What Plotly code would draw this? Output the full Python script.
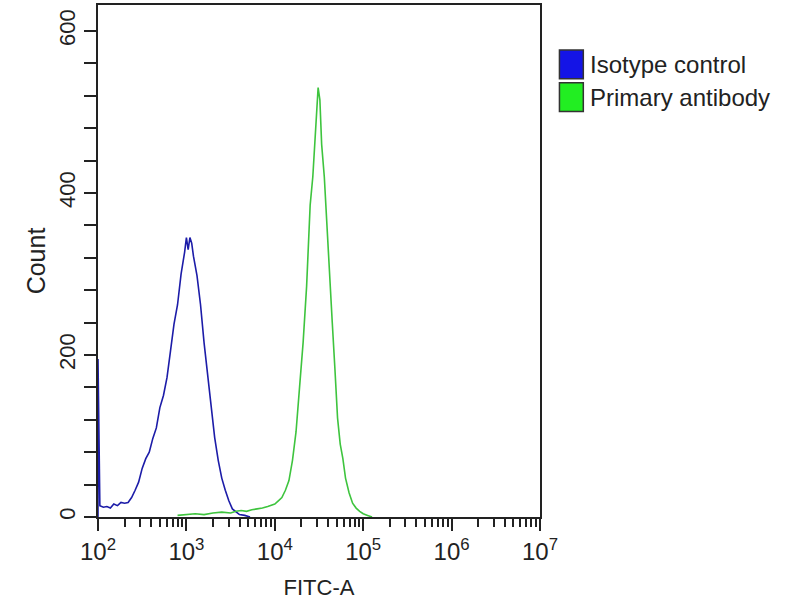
import plotly.graph_objects as go

# histogram values (FITC-A intensity, count)
isotype_x = [100, 100, 105, 115, 126, 138, 151, 166, 182, 200, 219, 240, 263, 288,
             316, 347, 380, 417, 457, 501, 550, 603, 661, 724, 794, 871, 955, 1000,
             1047, 1096, 1148, 1202, 1318, 1445, 1585, 1738, 1905, 2089, 2291, 2512,
             2754, 3020, 3311, 3631, 3981, 4571, 5248]
isotype_y = [0, 195, 14, 12, 13, 11, 16, 14, 18, 17, 18, 24, 33, 43,
             60, 72, 80, 97, 110, 135, 150, 172, 205, 238, 262, 300, 327, 345,
             330, 345, 338, 322, 298, 262, 215, 175, 140, 98, 70, 48,
             33, 20, 10, 6, 3, 2, 0]

primary_x = [794, 1000, 1259, 1585, 1995, 2512, 3162, 3631, 4169, 4786, 5495, 6310,
             7244, 8318, 9120, 10000, 10965, 12023, 13183, 14454, 15849, 17378,
             19055, 20893, 22909, 25119, 26915, 28840, 30903, 32359, 33884, 36308,
             38905, 41687, 44668, 47863, 51286, 54954, 58884, 63096, 69183, 75858,
             83176, 91201, 100000, 112202, 125893]
primary_y = [2, 3, 4, 3, 5, 6, 5, 7, 8, 7, 9, 10,
             11, 13, 15, 16, 20, 24, 33, 45, 70, 105,
             160, 215, 285, 385, 420, 470, 530, 515, 460, 420,
             355, 300, 240, 183, 122, 90, 72, 48, 30, 17,
             11, 7, 4, 2, 0]

series_names = ['Isotype control', 'Primary antibody']
line_colors = ['#1c1ca8', '#3ec43e']
legend_colors = ['#1414e6', '#22ee22']

x_major = [100, 1000, 10000, 100000, 1000000, 10000000]
x_labels = ['10<sup>2</sup>', '10<sup>3</sup>', '10<sup>4</sup>',
            '10<sup>5</sup>', '10<sup>6</sup>', '10<sup>7</sup>']
x_minor = [m * 10 ** d for d in range(2, 7) for m in range(2, 10)]

y_major = [0, 200, 400, 600]

fig = go.Figure()

fig.add_trace(go.Scatter(x=isotype_x, y=isotype_y, mode='lines', name=series_names[0],
                         line=dict(color=line_colors[0], width=1.6),
                         showlegend=False))
fig.add_trace(go.Scatter(x=primary_x, y=primary_y, mode='lines', name=series_names[1],
                         line=dict(color=line_colors[1], width=1.6),
                         showlegend=False))

# legend drawn by hand: big square swatches + labels to the right of the plot
for i, (name, col) in enumerate(zip(series_names, legend_colors)):
    top = 0.912 - i * 0.064
    fig.add_shape(type='rect', xref='paper', yref='paper',
                  x0=1.044, x1=1.098, y0=top - 0.056, y1=top,
                  fillcolor=col, line=dict(color='#333333', width=1.5))
    fig.add_annotation(x=1.108, y=top - 0.028, xref='paper', yref='paper',
                       text=name, showarrow=False, xanchor='left', yanchor='middle',
                       font=dict(size=24, color='#222222'))

fig.update_layout(
    width=800, height=600,
    margin=dict(l=98, r=260, t=3, b=83),
    paper_bgcolor='white',
    plot_bgcolor='white',
    font=dict(family='Liberation Sans Narrow, Liberation Sans, Arial, sans-serif',
              size=20, color='#222222'),
    showlegend=False,
)

fig.update_xaxes(
    type='log', range=[2, 7],
    tickmode='array', tickvals=x_major, ticktext=x_labels,
    ticks='outside', ticklen=12, tickwidth=1.5, tickcolor='#222222',
    minor=dict(tickmode='array', tickvals=x_minor, ticks='outside',
               ticklen=8, tickwidth=1.5, tickcolor='#222222', showgrid=False),
    showline=True, linecolor='#222222', linewidth=2, mirror=True,
    showgrid=False, zeroline=False,
    title=dict(text='FITC-A', font=dict(size=22), standoff=16),
    tickfont=dict(size=24),
)

fig.update_yaxes(
    range=[0, 632],
    tickmode='array', tickvals=y_major, tickangle=-90,
    ticks='outside', ticklen=12, tickwidth=1.5, tickcolor='#222222',
    minor=dict(dtick=40, ticks='outside', ticklen=12, tickwidth=1.5,
               tickcolor='#222222', showgrid=False),
    showline=True, linecolor='#222222', linewidth=2, mirror=True,
    showgrid=False, zeroline=False,
    title=dict(text='Count', font=dict(size=25), standoff=2),
    tickfont=dict(size=22),
)

# the page body has a default margin; drop it so the figure sits at (0, 0)
fig.write_html('out.html', config={'displayModeBar': False},
               post_script="document.body.style.margin='0';")
